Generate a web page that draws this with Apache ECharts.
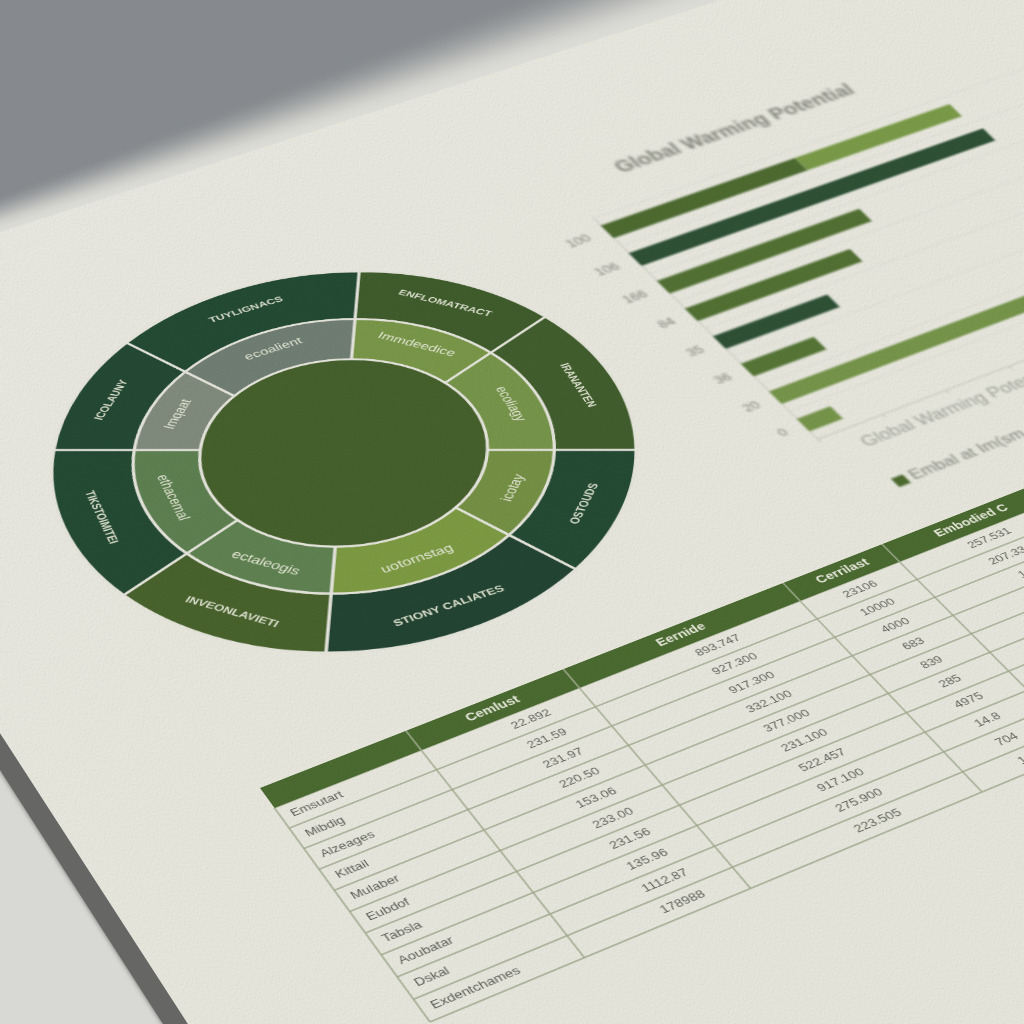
<!DOCTYPE html>
<html>
<head>
<meta charset="utf-8">
<script src="https://cdn.jsdelivr.net/npm/echarts@6/dist/echarts.min.js"></script>
<style>
html,body{margin:0;padding:0;width:1024px;height:1024px;overflow:hidden;background:#d8d9d5}
.layer{position:absolute;left:0;top:0;transform-origin:0 0}
#grain{position:absolute;left:0;top:0;width:1024px;height:1024px;mix-blend-mode:multiply;opacity:.4;pointer-events:none;clip-path:polygon(0 232px,720px 0,1024px 0,1024px 1024px,188px 1024px,0 733px)}
</style>
</head>
<body>
<div id="base" class="layer" style="width:1024px;height:1024px"></div>
<div id="donut" class="layer" style="width:640px;height:640px"></div>
<div id="heading" class="layer" style="width:800px;height:600px;filter:blur(1.5px)"></div>
<div id="bars" class="layer" style="width:800px;height:600px;filter:blur(0.8px)"></div>
<div id="table" class="layer" style="width:1060px;height:340px;filter:blur(0.5px)"></div>
<svg id="grain" xmlns="http://www.w3.org/2000/svg"><filter id="paper" x="0" y="0" width="100%" height="100%"><feTurbulence type="fractalNoise" baseFrequency="0.55" numOctaves="2" seed="4"/><feDiffuseLighting surfaceScale="0.55" lighting-color="#ffffff" diffuseConstant="1.05"><feDistantLight azimuth="225" elevation="62"/></feDiffuseLighting></filter><rect width="1024" height="1024" filter="url(#paper)"/></svg>
<script>
// ---------- data ----------
const outerLabels = ['ENFLOMATRACT','IRANANTEN','OSTOUDS','STIONY CALIATES','INVEONLAVIETI','TIKSTOIMITEI','ICOLAUNY','TUYLIGNACS'];
const outerValues = [43,47,37,53,43,47,36,54];
const middleLabels = ['Immdeedice','ecoliagy','icotay','uotornstag','ectaleogis','ethacemal','Imqaat','ecoalient'];
const middleValues = [43,47,37,53,43,47,36,54];
const barCategories = ['100','106','166','84','35','36','20','0'];
const barPrimary = [35.5,66.2,37.3,30.4,21,13.4,57.6,6.2];
const barSecondary = [29.4,0,0,0,0,0,0,0];
const barTitle = 'Global Warming Potential';
const barAxisName = 'Global Warming Potential';
const barLegend = 'Embal at Im(sm';
const tableHeaders = ['','Cemlust','Eernide','Cerrilast','Embodied C'];
const tableRowNames = ['Emsutart','Mibdig','Alzeages','Kittail','Mulaber','Eubdof','Tabsla','Aoubatar','Dskal','Exdentchames'];
const tableCol1 = ['22.892','231.59','231.97','220.50','153.06','233.00','231.56','135.96','1112.87','178988'];
const tableCol2 = ['893.747','927.300','917.300','332.100','377.000','231.100','522.457','917.100','275.900','223.505'];
const tableCol3 = ['23106','10000','4000','683','839','285','4975','14.8','704','12'];
const tableCol4 = ['257.531','207.33','12'];

// ---------- palette and layout ----------
const OLIVE2='#527033', DARK='#244a33', DARK2='#2e5034', LIGHT='#76944a', PAPER='#e4e4db';
const outerColors=['#3f5c2c','#415d2d',DARK,'#234432','#48622c',DARK,'#234833','#234a33'];
const middleColors=['#789648','#76944a','#749044','#7c9a42','#5f8150','#5d7f50','#7f8a7c','#6f7d72'];
const barColors=['#4d6a30',DARK2,OLIVE2,OLIVE2,DARK2,'#557535',LIGHT,LIGHT];
const columnEdges=[0,152,320,562,674,875,1000];
const columnText=[10,260,462,620,767];

function solve(A,b){const n=b.length;for(let i=0;i<n;i++){let p=i;for(let r=i+1;r<n;r++)if(Math.abs(A[r][i])>Math.abs(A[p][i]))p=r;
[A[i],A[p]]=[A[p],A[i]];[b[i],b[p]]=[b[p],b[i]];for(let r=i+1;r<n;r++){const f=A[r][i]/A[i][i];for(let c=i;c<n;c++)A[r][c]-=f*A[i][c];b[r]-=f*b[i];}}
const x=new Array(n);for(let i=n-1;i>=0;i--){let s=b[i];for(let c=i+1;c<n;c++)s-=A[i][c]*x[c];x[i]=s/A[i][i];}return x;}
function warp(ids,src,dst){const A=[],b=[];for(let i=0;i<4;i++){const [x,y]=src[i],[u,v]=dst[i];
A.push([x,y,1,0,0,0,-u*x,-u*y]);b.push(u);A.push([0,0,0,x,y,1,-v*x,-v*y]);b.push(v);}
const m=solve(A,b);ids.forEach(id=>{document.getElementById(id).style.transform=`matrix3d(${m[0]},${m[3]},0,${m[6]},${m[1]},${m[4]},0,${m[7]},0,0,1,0,${m[2]},${m[5]},0,1)`;});}

// ---------- background ----------
function mix(a,b,t){const p=h=>[1,3,5].map(i=>parseInt(h.substr(i,2),16));const A=p(a),B=p(b);return 'rgb('+A.map((v,i)=>Math.round(v+(B[i]-v)*t)).join(',')+')';}
const backdrop=[
  {type:'rect',shape:{x:0,y:0,width:1024,height:1024},style:{fill:'#d8d9d5'}},
  {type:'polygon',shape:{points:[[0,733],[188,1024],[163,1024],[0,770]]},style:{fill:'#666765',shadowBlur:5,shadowColor:'#666765'}}
];
const STEPS=60;
for(let k=STEPS;k>=0;k--){const s=k/STEPS,e=s*s*(3-2*s);
  backdrop.push({type:'polygon',shape:{points:[[0,0],[510+210*s,0],[0,194+38*s]]},style:{fill:mix('#868a8e','#dcdcd6',e)}});}
backdrop.push({type:'polygon',shape:{points:[[0,232],[720,0],[1024,0],[1024,1024],[188,1024],[0,733]]},
  style:{fill:new echarts.graphic.LinearGradient(0,0,1,1,[{offset:0,color:'#e8e8e0'},{offset:1,color:'#e5e5db'}])}});
echarts.init(document.getElementById('base')).setOption({animation:false,graphic:backdrop});

// ---------- donut ----------
const R=285, cx=320, cy=320;
function ringData(vals,names,cols){return vals.map((v,i)=>({value:v,name:names[i],itemStyle:{color:cols[i]}}));}
const ringBorder={borderColor:PAPER,borderWidth:3};
echarts.init(document.getElementById('donut')).setOption({
  animation:false,
  series:[
    {type:'pie',silent:true,center:[cx,cy],radius:[R*0.724,R+1],startAngle:90,clockwise:true,itemStyle:ringBorder,
     labelLine:{show:false},label:{position:'inside',rotate:'tangential',color:'#d9decb',fontSize:12.5,fontFamily:'Liberation Sans',fontWeight:'bold'},
     data:ringData(outerValues,outerLabels,outerColors)},
    {type:'pie',silent:true,center:[cx,cy],radius:[R*0.495,R*0.724],startAngle:90,clockwise:true,itemStyle:ringBorder,
     labelLine:{show:false},label:{position:'inside',rotate:'tangential',color:'#e2e6d4',fontSize:15.5,fontFamily:'Liberation Sans'},
     data:ringData(middleValues,middleLabels,middleColors)},
    {type:'pie',silent:true,center:[cx,cy],radius:[0,R*0.495],label:{show:false},labelLine:{show:false},
     itemStyle:ringBorder,data:[{value:1,name:'core',itemStyle:{color:'#45602c'}}]}
  ]
});
warp(['donut'],[[cx-R,cy],[cx+R,cy],[cx,cy-R],[cx,cy+R]],[[55,450],[635,450],[359,272],[326,652]]);

// ---------- bars ----------
const gx=100,gy=110,gw=537,gh=315;
echarts.init(document.getElementById('heading')).setOption({
  animation:false,
  title:{text:barTitle,left:150,top:52,textStyle:{color:'#85867c',fontSize:20,fontWeight:'bold',fontFamily:'Liberation Sans'}}
});
echarts.init(document.getElementById('bars')).setOption({
  animation:false,
  legend:{data:[barLegend],left:120,top:488,icon:'rect',itemWidth:12,itemHeight:12,itemGap:6,textStyle:{color:'#85877d',fontSize:17,fontFamily:'Liberation Sans'}},
  grid:{left:gx,top:gy,width:gw,height:gh},
  xAxis:{type:'value',min:0,max:96,interval:12,
    name:barAxisName,nameLocation:'start',nameGap:-31,
    nameTextStyle:{align:'left',verticalAlign:'top',padding:[14,0,0,0],color:'#a2a49a',fontSize:18,fontFamily:'Liberation Sans'},
    axisLine:{show:true,onZero:false,lineStyle:{color:'#c3c4ba'}},axisTick:{show:true,length:5,lineStyle:{color:'#c3c4ba'}},
    axisLabel:{show:false},splitLine:{show:false}},
  yAxis:{type:'category',inverse:true,data:barCategories,
    axisLine:{show:true,lineStyle:{color:'#c8c9bf'}},axisTick:{show:false},
    axisLabel:{margin:17,color:'#85867c',fontSize:13,fontFamily:'Liberation Sans'},
    splitLine:{show:true,lineStyle:{color:'#deded5'}}},
  series:[
    {type:'bar',name:barLegend,stack:'gwp',barWidth:'46%',itemStyle:{color:'#4d6a30'},
     data:barPrimary.map((v,i)=>({value:v,itemStyle:{color:barColors[i]}}))},
    {type:'bar',name:'Secondary',stack:'gwp',barWidth:'46%',itemStyle:{color:'#7a9a48'},data:barSecondary}
  ]
});
warp(['bars','heading'],[[gx,gy],[gx+gw,gy],[gx,gy+gh],[gx+gw,gy+gh]],[[593,218],[1100,42],[817,439],[1309,251]]);

// ---------- table ----------
const tx=20,ty=20,tw=1000,th=319;
const nRows=tableRowNames.length;
const bodyCells=[];
[tableRowNames,tableCol1,tableCol2,tableCol3,tableCol4].forEach((col,c)=>col.forEach((t,r)=>bodyCells.push({c,r,t})));
const rules=[];
for(let r=1;r<=nRows+1;r++)rules.push([0,r,1000,r]);
columnEdges.slice(0,-1).forEach(e=>rules.push([e,1,e,nRows+1]));
echarts.init(document.getElementById('table')).setOption({
  animation:false,
  grid:{left:tx,top:ty,width:tw,height:th},
  xAxis:{type:'value',min:0,max:1000,show:false},
  yAxis:{type:'value',min:0,max:nRows+1,inverse:true,show:false},
  series:[
    {type:'custom',silent:true,clip:false,coordinateSystem:'cartesian2d',data:rules,
     renderItem(p,api){const a=api.coord([api.value(0),api.value(1)]),b=api.coord([api.value(2),api.value(3)]);
       return {type:'line',shape:{x1:a[0],y1:a[1],x2:b[0],y2:b[1]},style:{stroke:'#9fa98c',lineWidth:1.4}};}},
    {type:'custom',silent:true,clip:false,z:3,coordinateSystem:'cartesian2d',data:tableHeaders.map((h,i)=>[columnEdges[i],0,columnEdges[i+1],1]),
     renderItem(p,api){const a=api.coord([api.value(0),api.value(1)]),b=api.coord([api.value(2),api.value(3)]);
       const i=p.dataIndex;
       const children=[{type:'rect',shape:{x:a[0],y:a[1],width:b[0]-a[0],height:b[1]-a[1]},style:{fill:'#4a6a30'}}];
       if(i>0)children.push({type:'line',shape:{x1:a[0],y1:a[1],x2:a[0],y2:b[1]},style:{stroke:'#a9b39a',lineWidth:1.4}});
       children.push({type:'text',style:{text:tableHeaders[i],x:api.coord([columnText[i]-(i===1?24:i===2?22:0),0])[0],y:(a[1]+b[1])/2,align:'center',verticalAlign:'middle',fill:'#e8e9dc',fontSize:14,fontWeight:'bold',fontFamily:'Liberation Sans'}});
       return {type:'group',children};}},
    {type:'custom',silent:true,clip:false,z:4,coordinateSystem:'cartesian2d',data:bodyCells.map(d=>[d.c,d.r]),
     renderItem(p,api){const d=bodyCells[p.dataIndex];const pos=api.coord([columnText[d.c],d.r+1.5]);
       return {type:'text',style:{text:d.t,x:pos[0],y:pos[1],align:d.c===0?'left':'center',verticalAlign:'middle',fill:d.c===0?'#5f6158':'#64665d',fontSize:13,fontFamily:'Liberation Sans'}};}}
  ]
});
warp(['table'],[[tx,ty],[tx,ty+th],[tx+562,ty],[tx+562,ty+th]],[[260,788],[430,1022],[783,583],[982,792]]);
</script>
</body>
</html>
